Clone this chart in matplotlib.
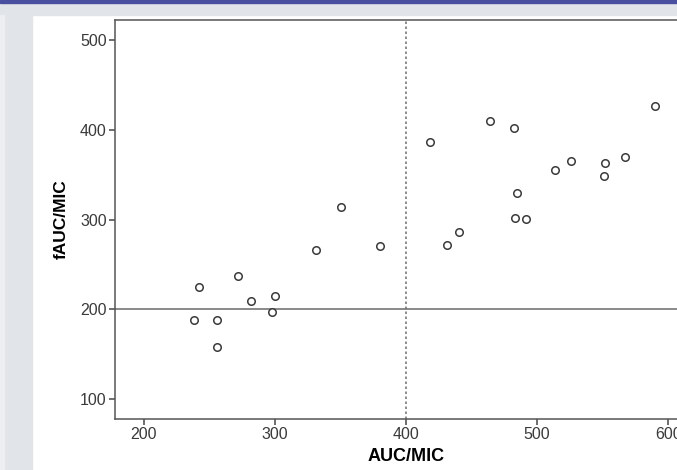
import matplotlib
matplotlib.use('Agg')
import matplotlib.pyplot as plt
from matplotlib.patches import Rectangle

plt.rcParams['font.family'] = ['Liberation Sans', 'DejaVu Sans']

# data
auc_mic = [238, 256, 256, 242, 271.5, 282, 300, 297.5, 331, 350.5, 380,
           418, 431.5, 440.5, 464, 482.5, 484.5, 483, 491.5, 514, 526,
           552, 551, 567, 590]
fauc_mic = [188, 188, 158, 224.5, 237, 209.5, 215, 197.5, 266, 314.5, 271,
            386.5, 271.5, 286.5, 410, 402.5, 330, 301.5, 300.5, 355, 365,
            363.5, 349, 369.5, 427]
x_ticks = [200, 300, 400, 500, 600]
y_ticks = [100, 200, 300, 400, 500]
x_ref = 400
y_ref = 200

W, H = 677, 470
fig = plt.figure(figsize=(W / 100, H / 100), dpi=100)
fig.patch.set_facecolor('white')

# page decoration around the chart
fig.add_artist(Rectangle((0, 1 - 15 / H), 1, 12 / H, transform=fig.transFigure,
                         color='#e1e4e8', zorder=0))
fig.add_artist(Rectangle((0, 0), 32 / W, 1 - 15 / H, transform=fig.transFigure,
                         color='#e1e4e8', zorder=0))
fig.add_artist(Rectangle((0, 0), 4 / W, 1 - 15 / H, transform=fig.transFigure,
                         color='#eceef1', zorder=0))
fig.add_artist(Rectangle((0, 1 - 3 / H), 1, 3 / H, transform=fig.transFigure,
                         color='#4a50a0', zorder=0))

ax = fig.add_axes([115 / W, 51 / H, 582 / W, 399.5 / H])
ax.set_xlim(178, 622)
ax.set_ylim(77.7, 523)

ax.axvline(x_ref, color='#7a7a7a', lw=1.2, ls=(0, (1.5, 1.5)), zorder=1)
ax.axhline(y_ref, color='#6a6a6a', lw=1.1, zorder=1)

ax.plot(auc_mic, fauc_mic, 'o', ms=5.4, mfc='white', mec='#3a3a3a', mew=1.1,
        zorder=3)

ax.set_xticks(x_ticks)
ax.set_yticks(y_ticks)
for s in ax.spines.values():
    s.set_color('#555555')
    s.set_linewidth(1.1)
ax.tick_params(direction='out', length=4, width=1.2, color='#555555',
               labelsize=11.5, labelcolor='#3a3a3a', pad=2)

ax.set_xlabel('AUC/MIC', fontsize=13, fontweight='bold', labelpad=4)
ax.set_ylabel('fAUC/MIC', fontsize=12.5, fontweight='bold', labelpad=8)

fig.savefig('out.png', dpi=100)
